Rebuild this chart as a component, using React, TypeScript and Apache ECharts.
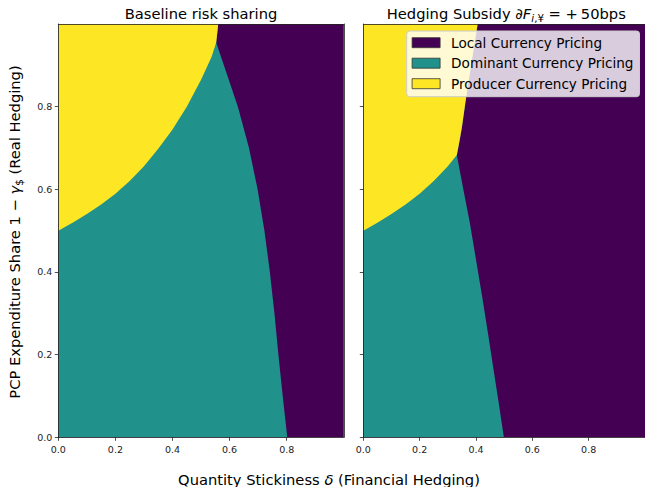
import React, { useEffect, useRef } from "react";
import * as echarts from "echarts";

// ---------- data ----------
const xDomain = [0, 1];
const yDomain = [0, 1];
const xTicks = [0, 0.2, 0.4, 0.6, 0.8];
const yTicks = [0, 0.2, 0.4, 0.6, 0.8];

const regimeNames = ["Local Currency Pricing", "Dominant Currency Pricing", "Producer Currency Pricing"];
const regimeColors = ["#440154", "#21918c", "#fde725"];

const panelTitles = ["Baseline risk sharing", "Hedging Subsidy"];

// Baseline panel boundaries
const baselinePcpDcp: number[][] = [
  [0, 0.5], [0.05, 0.519], [0.1, 0.54], [0.15, 0.563], [0.2, 0.589], [0.25, 0.62],
  [0.3, 0.656], [0.35, 0.698], [0.4, 0.745], [0.45, 0.8], [0.5, 0.865], [0.537, 0.921], [0.553, 0.955],
];
const baselinePcpLcp: number[][] = [[0.553, 0.955], [0.557, 0.98], [0.56, 1.0]];
const baselineDcpLcp: number[][] = [
  [0.553, 0.955], [0.58, 0.9], [0.629, 0.8], [0.668, 0.7], [0.698, 0.6], [0.722, 0.5],
  [0.741, 0.4], [0.757, 0.3], [0.771, 0.2], [0.786, 0.1], [0.802, 0],
];

// Hedging subsidy panel boundaries
const subsidyPcpDcp: number[][] = [
  [0, 0.5], [0.05, 0.519], [0.1, 0.54], [0.15, 0.563], [0.2, 0.589], [0.25, 0.62],
  [0.3, 0.656], [0.332, 0.683],
];
const subsidyPcpLcp: number[][] = [
  [0.332, 0.683], [0.341, 0.715], [0.35, 0.75], [0.362, 0.808], [0.38, 0.889], [0.393, 0.945], [0.406, 1.0],
];
const subsidyDcpLcp: number[][] = [
  [0.332, 0.683], [0.355, 0.6], [0.378, 0.52], [0.4, 0.43], [0.422, 0.34], [0.443, 0.25],
  [0.462, 0.165], [0.481, 0.082], [0.499, 0],
];

const FONT = "DejaVu Sans";

function regions(pcpDcp: number[][], pcpLcp: number[][], dcpLcp: number[][]) {
  const [x0, x1] = xDomain;
  const [y0, y1] = yDomain;
  const lcp = [[x0, y0], [x1, y0], [x1, y1], [x0, y1]];
  const dcpUnion = [[x0, y0], [x0, y1], ...pcpLcp.slice().reverse(), ...dcpLcp.slice(1)];
  const pcp = [...pcpDcp, ...pcpLcp.slice(1), [x0, y1]];
  return [lcp, dcpUnion, pcp];
}

function polySeries(poly: number[][], color: string, name: string, axisIndex: number) {
  return {
    type: "custom",
    name,
    coordinateSystem: "cartesian2d",
    xAxisIndex: axisIndex,
    yAxisIndex: axisIndex,
    silent: true,
    itemStyle: { color },
    data: [[poly[0][0], poly[0][1]]],
    renderItem: (_params: any, api: any) => ({
      type: "polygon",
      shape: { points: poly.map((p) => api.coord(p)) },
      style: { fill: color, stroke: null },
    }),
  };
}

const axisLineStyle = { color: "#222", width: 0.8 };

function mainX(gridIndex: number) {
  return {
    gridIndex,
    type: "value",
    min: xDomain[0],
    max: xDomain[1],
    position: "bottom",
    z: 10,
    splitLine: { show: false },
    axisLine: { show: true, onZero: false, lineStyle: axisLineStyle },
    axisTick: { show: true, length: 3.5, customValues: xTicks, lineStyle: axisLineStyle },
    axisLabel: {
      show: true,
      customValues: xTicks,
      formatter: (v: number) => v.toFixed(1),
      fontSize: 9.5,
      fontFamily: FONT,
      color: "#222",
      margin: 7,
    },
  };
}
function mainY(gridIndex: number, showLabels: boolean) {
  return {
    gridIndex,
    type: "value",
    min: yDomain[0],
    max: yDomain[1],
    position: "left",
    z: 10,
    splitLine: { show: false },
    axisLine: { show: true, onZero: false, lineStyle: axisLineStyle },
    axisTick: { show: true, length: 3.5, customValues: yTicks, lineStyle: axisLineStyle },
    axisLabel: {
      show: showLabels,
      customValues: yTicks,
      formatter: (v: number) => v.toFixed(1),
      fontSize: 9.5,
      fontFamily: FONT,
      color: "#222",
      margin: 6,
    },
  };
}
function spineX(gridIndex: number) {
  return {
    gridIndex, type: "value", min: xDomain[0], max: xDomain[1], position: "top", z: 10,
    splitLine: { show: false }, axisTick: { show: false }, axisLabel: { show: false },
    axisLine: { show: true, onZero: false, lineStyle: axisLineStyle },
  };
}
function spineY(gridIndex: number) {
  return {
    gridIndex, type: "value", min: yDomain[0], max: yDomain[1], position: "right", z: 10,
    splitLine: { show: false }, axisTick: { show: false }, axisLabel: { show: false },
    axisLine: { show: true, onZero: false, lineStyle: axisLineStyle },
  };
}

const mathRich = {
  it: { fontSize: 14.7, fontStyle: "italic", fontFamily: FONT, fill: "#000", lineHeight: 20 },
  subi: { fontSize: 10.3, fontStyle: "italic", fontFamily: FONT, fill: "#000", lineHeight: 12, verticalAlign: "bottom" },
  sub: { fontSize: 10.3, fontFamily: FONT, fill: "#000", lineHeight: 12, verticalAlign: "bottom" },
  n: { fontSize: 14.7, fontFamily: FONT, fill: "#000", lineHeight: 20 },
};

export default function App() {
  const ref = useRef<HTMLDivElement>(null);
  useEffect(() => {
    document.body.style.margin = "0";
    if (!ref.current) return;
    const chart = echarts.init(ref.current, null, { renderer: "svg" });

    const left = regions(baselinePcpDcp, baselinePcpLcp, baselineDcpLcp);
    const right = regions(subsidyPcpDcp, subsidyPcpLcp, subsidyDcpLcp);

    const series: any[] = [];
    left.forEach((poly, i) => series.push(polySeries(poly, regimeColors[i], "baseline-" + regimeNames[i], 0)));
    right.forEach((poly, i) => series.push(polySeries(poly, regimeColors[i], regimeNames[i], 1)));

    const option: any = {
      animation: false,
      backgroundColor: "#fff",
      textStyle: { fontFamily: FONT },
      grid: [
        { left: 58.3, top: 24, width: 285.5, height: 413.3, containLabel: false },
        { left: 363.3, top: 24, width: 286, height: 413.3, containLabel: false },
      ],
      xAxis: [mainX(0), mainX(1), spineX(0), spineX(1)],
      yAxis: [mainY(0, true), mainY(1, false), spineY(0), spineY(1)],
      legend: {
        data: regimeNames,
        orient: "vertical",
        left: 406.7,
        top: 31,
        icon: "rect",
        itemWidth: 28,
        itemHeight: 10,
        itemGap: 6.5,
        selectedMode: false,
        padding: [4.7, 6, 6, 5],
        backgroundColor: "rgba(255,255,255,0.8)",
        borderColor: "#cccccc",
        borderWidth: 1,
        borderRadius: 3,
        itemStyle: { borderColor: "#333", borderWidth: 0.8 },
        textStyle: { fontSize: 13.6, fontFamily: FONT, color: "#000", lineHeight: 14, padding: [0, 0, 0, 6] },
      },
      graphic: [
        {
          type: "text",
          x: 201,
          y: 13,
          style: {
            text: panelTitles[0],
            fontSize: 14.7,
            fontFamily: FONT,
            fill: "#000",
            align: "center",
            verticalAlign: "middle",
          },
        },
        {
          type: "text",
          x: 506.3,
          y: 13,
          style: {
            text: panelTitles[1] + " {it|∂F}{subi|i}{sub|,¥}{n| = +\u200950bps}",
            fontSize: 14.7,
            fontFamily: FONT,
            fill: "#000",
            align: "center",
            verticalAlign: "middle",
            rich: mathRich,
          },
        },
        {
          type: "text",
          x: 329,
          y: 479,
          style: {
            text: "Quantity Stickiness {it|δ} (Financial Hedging)",
            fontSize: 14.7,
            fontFamily: FONT,
            fill: "#000",
            align: "center",
            verticalAlign: "middle",
            rich: { it: { fontSize: 14.7, fontStyle: "italic", fontFamily: FONT, fill: "#000" } },
          },
        },
        {
          type: "text",
          x: 14,
          y: 232,
          rotation: Math.PI / 2,
          style: {
            text: "PCP Expenditure Share 1 − {it|γ}{sub|$}{n| (Real Hedging)}",
            fontSize: 14.7,
            fontFamily: FONT,
            fill: "#000",
            align: "center",
            verticalAlign: "middle",
            rich: mathRich,
          },
        },
      ],
      series,
    };
    chart.setOption(option);
    return () => chart.dispose();
  }, []);
  return <div ref={ref} style={{ width: 645, height: 487 }} />;
}
